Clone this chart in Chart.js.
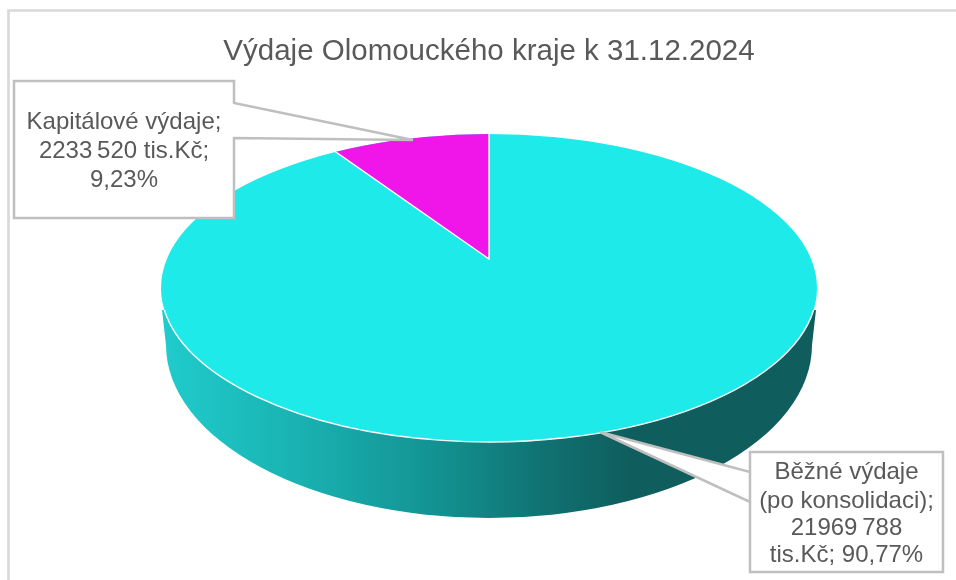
<!DOCTYPE html>
<html><head><meta charset="utf-8">
<style>html,body{margin:0;padding:0;background:#fff}#w{width:956px;height:580px}</style>
<script src="https://cdn.jsdelivr.net/npm/chart.js@4"></script>
</head><body><div id="w"><canvas id="c" width="956" height="580"></canvas></div>
<script>
const categories = ['Běžné výdaje (po konsolidaci)', 'Kapitálové výdaje'];
const seriesValues = [21969788, 2233520];
const sliceColors = ['#1eeaea', '#f016ea'];
const chartTitle = 'Výdaje Olomouckého kraje k 31.12.2024';
const runningLabelLines = ['Běžné výdaje', '(po konsolidaci);', '21969\u2009788', 'tis.Kč; 90,77%'];
const capitalLabelLines = ['Kapitálové výdaje;', '2233\u2009520 tis.Kč;', '9,23%'];

const TOP = {cx: 489, cy: 288, rx: 328, ry: 154};
const LOW = {cx: 489, cy: 345, rx: 323, ry: 173};
const WEDGE = {cx: 489, cy: 259, rx: 330, ry: 151};
const rimY = 310;

function place(ctx, arc, g) {
  const r = arc.outerRadius;
  ctx.translate(g.cx, g.cy);
  ctx.scale(g.rx / r, g.ry / r);
  ctx.translate(-arc.x, -arc.y);
}
function drawCallout(ctx, box, ptr, lines, lineYs) {
  ctx.save();
  ctx.beginPath();
  ctx.moveTo(box.x, box.y);
  ctx.lineTo(box.x + box.w, box.y);
  if (box.side === 'right') {
    ctx.lineTo(box.x + box.w, ptr.a);
    ctx.lineTo(ptr.x, ptr.y);
    ctx.lineTo(box.x + box.w, ptr.b);
    ctx.lineTo(box.x + box.w, box.y + box.h);
    ctx.lineTo(box.x, box.y + box.h);
  } else {
    ctx.lineTo(box.x + box.w, box.y + box.h);
    ctx.lineTo(box.x, box.y + box.h);
    ctx.lineTo(box.x, ptr.b);
    ctx.lineTo(ptr.x, ptr.y);
    ctx.lineTo(box.x, ptr.a);
  }
  ctx.closePath();
  ctx.fillStyle = '#fff';
  ctx.fill();
  ctx.strokeStyle = '#bfbfbf';
  ctx.lineWidth = 2.5;
  ctx.lineJoin = 'miter';
  ctx.stroke();
  ctx.fillStyle = '#595959';
  ctx.font = '24px "Liberation Sans", Arial, sans-serif';
  ctx.textAlign = 'center';
  ctx.textBaseline = 'middle';
  lines.forEach((t, i) => ctx.fillText(t, box.x + box.w / 2, lineYs[i]));
  ctx.restore();
}
const pie3d = {
  id: 'pie3d',
  beforeDraw(chart) {
    const ctx = chart.ctx;
    ctx.save();
    ctx.fillStyle = '#fff';
    ctx.fillRect(0, 0, 956, 580);
    ctx.strokeStyle = '#d9d9d9';
    ctx.lineWidth = 2.6;
    ctx.beginPath();
    ctx.moveTo(8.5, 580);
    ctx.lineTo(8.5, 10.5);
    ctx.lineTo(956, 10.5);
    ctx.stroke();
    ctx.restore();
  },
  beforeDatasetDraw(chart) {
    const ctx = chart.ctx;
    const arcs = chart.getDatasetMeta(0).data;
    // side wall
    ctx.save();
    const g = ctx.createLinearGradient(TOP.cx - TOP.rx, 0, TOP.cx + TOP.rx, 0);
    g.addColorStop(0, '#20cccc');
    g.addColorStop(0.2, '#1ab3b3');
    g.addColorStop(0.42, '#139292');
    g.addColorStop(0.58, '#117272');
    g.addColorStop(0.72, '#0f5d5d');
    g.addColorStop(1, '#0f5d5d');
    ctx.fillStyle = g;
    ctx.beginPath();
    ctx.moveTo(TOP.cx - TOP.rx + 1, rimY);
    ctx.lineTo(LOW.cx - LOW.rx, LOW.cy);
    ctx.ellipse(LOW.cx, LOW.cy, LOW.rx, LOW.ry, 0, Math.PI, 0, true);
    ctx.lineTo(TOP.cx + TOP.rx - 1, rimY);
    ctx.closePath();
    ctx.fill();
    ctx.restore();
    // large slice: whole top ellipse shape
    ctx.save();
    place(ctx, arcs[0], TOP);
    ctx.beginPath();
    ctx.arc(arcs[0].x, arcs[0].y, arcs[0].outerRadius, 0, Math.PI * 2);
    ctx.fillStyle = sliceColors[0];
    ctx.fill();
    ctx.restore();
    // small slice, apex shifted by the perspective and clipped to the top ellipse
    ctx.save();
    ctx.beginPath();
    ctx.ellipse(TOP.cx, TOP.cy, TOP.rx, TOP.ry, 0, 0, Math.PI * 2);
    ctx.clip();
    ctx.save();
    place(ctx, arcs[1], WEDGE);
    arcs[1].draw(ctx);
    ctx.restore();
    // white edges of the small slice
    ctx.strokeStyle = '#fff';
    ctx.lineWidth = 1.4;
    ctx.beginPath();
    ctx.moveTo(WEDGE.cx + WEDGE.rx * Math.cos(arcs[1].startAngle), WEDGE.cy + WEDGE.ry * Math.sin(arcs[1].startAngle));
    ctx.lineTo(WEDGE.cx, WEDGE.cy);
    ctx.lineTo(WEDGE.cx + WEDGE.rx * Math.cos(arcs[1].endAngle), WEDGE.cy + WEDGE.ry * Math.sin(arcs[1].endAngle));
    ctx.stroke();
    ctx.restore();
    // white rim on the front edge
    const t = Math.asin((rimY - TOP.cy) / TOP.ry);
    ctx.save();
    ctx.strokeStyle = '#fff';
    ctx.lineWidth = 1.4;
    ctx.beginPath();
    ctx.ellipse(TOP.cx, TOP.cy, TOP.rx, TOP.ry, 0, t, Math.PI - t);
    ctx.stroke();
    ctx.restore();
    return false;
  },
  afterDraw(chart) {
    const ctx = chart.ctx;
    drawCallout(ctx, {x: 14, y: 81, w: 220, h: 137, side: 'right'}, {a: 103, x: 413, y: 140, b: 138}, capitalLabelLines, [122, 151, 180]);
    drawCallout(ctx, {x: 750, y: 452, w: 193, h: 120, side: 'left'}, {a: 502, x: 600, y: 432, b: 472}, runningLabelLines, [472, 501, 528, 555]);
  }
};
new Chart(document.getElementById('c'), {
  type: 'pie',
  data: {labels: categories, datasets: [{data: seriesValues, backgroundColor: sliceColors, borderWidth: 0}]},
  options: {
    responsive: false, animation: false, rotation: 0,
    layout: {padding: {left: 22}},
    plugins: {
      legend: {display: false}, tooltip: {enabled: false},
      title: {display: true, text: chartTitle, color: '#595959', align: 'center',
        font: {family: '"Liberation Sans", Arial, sans-serif', size: 29.5, weight: 'normal'},
        padding: {top: 34, bottom: 10}}
    }
  },
  plugins: [pie3d]
});
</script></body></html>
